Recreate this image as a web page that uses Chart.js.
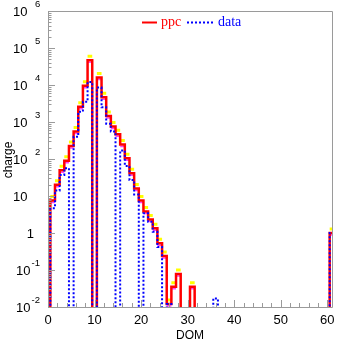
<!DOCTYPE html>
<html><head><meta charset="utf-8">
<script src="https://cdn.jsdelivr.net/npm/chart.js@4.4.0/dist/chart.umd.min.js"></script>
<style>html,body{margin:0;padding:0;background:#fff;}canvas{display:block;}</style>
</head><body>
<canvas id="c" width="337" height="344"></canvas>
<script>
// ---- data ----
const domBins    = [1,   2,  3,  4,  5,   6,   7,    8,    9,     10, 11,    12,   13,   14,  15,  16,  17,  18, 19, 20,  21,  22,  23,   24,   25,   26,    27,    28,    31,    36,    61];
const ppcCharge  = [7.5, 20, 50, 90, 225, 550, 2600, 9600, 47000, 0,  16000, 4700, 1450, 750, 470, 245, 104, 41, 16, 7.5, 3.8, 2.3, 1.34, 0.53, 0.24, 0.012, 0.035, 0.078, 0.035, 0,     1];
const dataCharge = [4.7, 14, 37, 56, 0,   400, 1900, 3500, 12000, 0,  8500,  2500, 900,  550, 0,   170, 65,  27, 11, 0,   3.4, 2.0, 1.08, 0.42, 0,    0.012, 0,     0,     0,     0.017, 1];
const seriesNames = ['ppc', 'data'];
const xTickValues = [0, 10, 20, 30, 40, 50, 60];
const yTickExponents = [-2, -1, 0, 1, 2, 3, 4, 5, 6];
const xTitle = 'DOM';
const yTitle = 'charge';

const X_MIN = 0, X_MAX = 61, Y_MIN = 1e-2, Y_MAX = 1e6;
const EMPTY = 1e-4; // below axis floor: empty bins drop out of the plot

function binMap(values) {
  const m = new Map();
  domBins.forEach((d, i) => m.set(d, values[i]));
  return m;
}
function stepPoints(values) {
  const m = binMap(values);
  const pts = [];
  for (let k = 0; k <= X_MAX; k++) {
    const v = m.get(k);
    const y = v > 0 ? v : EMPTY;
    pts.push({x: k - 0.5, y: y}, {x: k + 0.5, y: y});
  }
  return pts;
}
// horizontal caps only (for the ppc uncertainty band)
function capPoints(values) {
  const pts = [];
  domBins.forEach((d, i) => {
    const v = values[i];
    if (v > 0) pts.push({x: d - 0.5, y: v}, {x: d + 0.5, y: v}, {x: d + 0.5, y: null});
  });
  return pts;
}

const ppcSteps = stepPoints(ppcCharge);
const dataSteps = stepPoints(dataCharge);
const ppcCaps = capPoints(ppcCharge);

const shiftPlugin = {
  id: 'shift',
  beforeDatasetDraw(chart, args) {
    const ds = chart.data.datasets[args.index];
    if (ds.shiftY) { chart.ctx.save(); chart.ctx.translate(0, ds.shiftY); }
  },
  afterDatasetDraw(chart, args) {
    const ds = chart.data.datasets[args.index];
    if (ds.shiftY) chart.ctx.restore();
  }
};

const axesPlugin = {
  id: 'axes',
  afterDraw(chart) {
    const ctx = chart.ctx, a = chart.chartArea;
    const xs = chart.scales.x, ys = chart.scales.y;
    ctx.save();
    ctx.strokeStyle = '#9a9a9a';
    ctx.lineWidth = 1;
    ctx.beginPath();
    ctx.rect(Math.round(a.left) + 0.5, Math.round(a.top) + 0.5, Math.round(a.right - a.left), Math.round(a.bottom - a.top));
    ctx.stroke();
    // y ticks
    ctx.beginPath();
    for (let e = -2; e <= 6; e++) {
      const y = Math.round(ys.getPixelForValue(Math.pow(10, e))) + 0.5;
      ctx.moveTo(a.left, y); ctx.lineTo(a.left + 7, y);
      if (e < 6) for (let mm = 2; mm <= 9; mm++) {
        const y2 = Math.round(ys.getPixelForValue(mm * Math.pow(10, e))) + 0.5;
        ctx.moveTo(a.left, y2); ctx.lineTo(a.left + 3.5, y2);
      }
    }
    // x ticks
    for (let v = 0; v <= 60; v += 2) {
      const x = Math.round(xs.getPixelForValue(v)) + 0.5;
      const len = v % 10 === 0 ? 7 : 4;
      ctx.moveTo(x, a.bottom); ctx.lineTo(x, a.bottom - len);
    }
    ctx.stroke();
    // labels
    ctx.fillStyle = '#000';
    ctx.font = "13px 'Liberation Sans', Arial, sans-serif";
    ctx.textBaseline = 'middle';
    ctx.textAlign = 'center';
    xTickValues.forEach(v => ctx.fillText(String(v), xs.getPixelForValue(v), a.bottom + 13));
    yTickExponents.forEach(e => {
      const y = ys.getPixelForValue(Math.pow(10, e)) + 1;
      if (e === 0) { ctx.textAlign = 'right'; ctx.font = "13px 'Liberation Sans', Arial, sans-serif"; ctx.fillText('1', 34, y); return; }
      ctx.textAlign = 'right';
      ctx.font = "13px 'Liberation Sans', Arial, sans-serif";
      const baseRight = e < 0 ? 30.5 : 27.5;
      ctx.fillText('10', baseRight, y);
      if (e !== 1) {
        ctx.textAlign = 'left';
        ctx.font = "9.5px 'Liberation Sans', Arial, sans-serif";
        ctx.fillText(String(e), e < 0 ? 31.5 : 35, y - 8);
      }
    });
    // titles
    ctx.font = "12px 'Liberation Sans', Arial, sans-serif";
    ctx.textAlign = 'center';
    ctx.fillText(xTitle, (a.left + a.right) / 2 + 0, 336);
    ctx.save();
    ctx.translate(9, 160);
    ctx.rotate(-Math.PI / 2);
    ctx.fillText(yTitle, 0, 0);
    ctx.restore();
    // legend
    ctx.lineWidth = 2;
    ctx.strokeStyle = '#ff0000';
    ctx.beginPath(); ctx.moveTo(142, 22.5); ctx.lineTo(157, 22.5); ctx.stroke();
    ctx.strokeStyle = '#0000ff';
    ctx.setLineDash([2, 2]);
    ctx.beginPath(); ctx.moveTo(187, 22.5); ctx.lineTo(213, 22.5); ctx.stroke();
    ctx.setLineDash([]);
    ctx.font = "14px 'Liberation Serif', 'Times New Roman', serif";
    ctx.textAlign = 'left';
    ctx.textBaseline = 'alphabetic';
    ctx.fillStyle = '#ff0000';
    ctx.fillText(seriesNames[0], 161, 26);
    ctx.fillStyle = '#0000ff';
    ctx.fillText(seriesNames[1], 218, 26);
    ctx.restore();
  }
};

new Chart(document.getElementById('c'), {
  type: 'line',
  data: {
    datasets: [
      {label: 'ppc band hi', data: ppcCaps, borderColor: '#ffff00', borderWidth: 3, shiftY: -4, spanGaps: false, order: 3},
      {label: 'ppc band lo', data: ppcCaps, borderColor: '#ff40ff', borderWidth: 1.5, shiftY: 2, spanGaps: false, order: 2},
      {label: seriesNames[0], data: ppcSteps, borderColor: '#ff0000', borderWidth: 2.5, order: 1},
      {label: seriesNames[1], data: dataSteps, borderColor: '#0000ff', borderWidth: 2, borderDash: [2, 2], order: 0}
    ]
  },
  options: {
    responsive: false, animation: false, devicePixelRatio: 1,
    parsing: false,
    layout: {padding: {left: 48, right: 5, top: 11, bottom: 37}},
    plugins: {legend: {display: false}, tooltip: {enabled: false}},
    elements: {point: {radius: 0}, line: {tension: 0, fill: false}},
    scales: {
      x: {type: 'linear', min: X_MIN, max: X_MAX, display: false},
      y: {type: 'logarithmic', min: Y_MIN, max: Y_MAX, display: false}
    }
  },
  plugins: [shiftPlugin, axesPlugin]
});
</script>
</body></html>
